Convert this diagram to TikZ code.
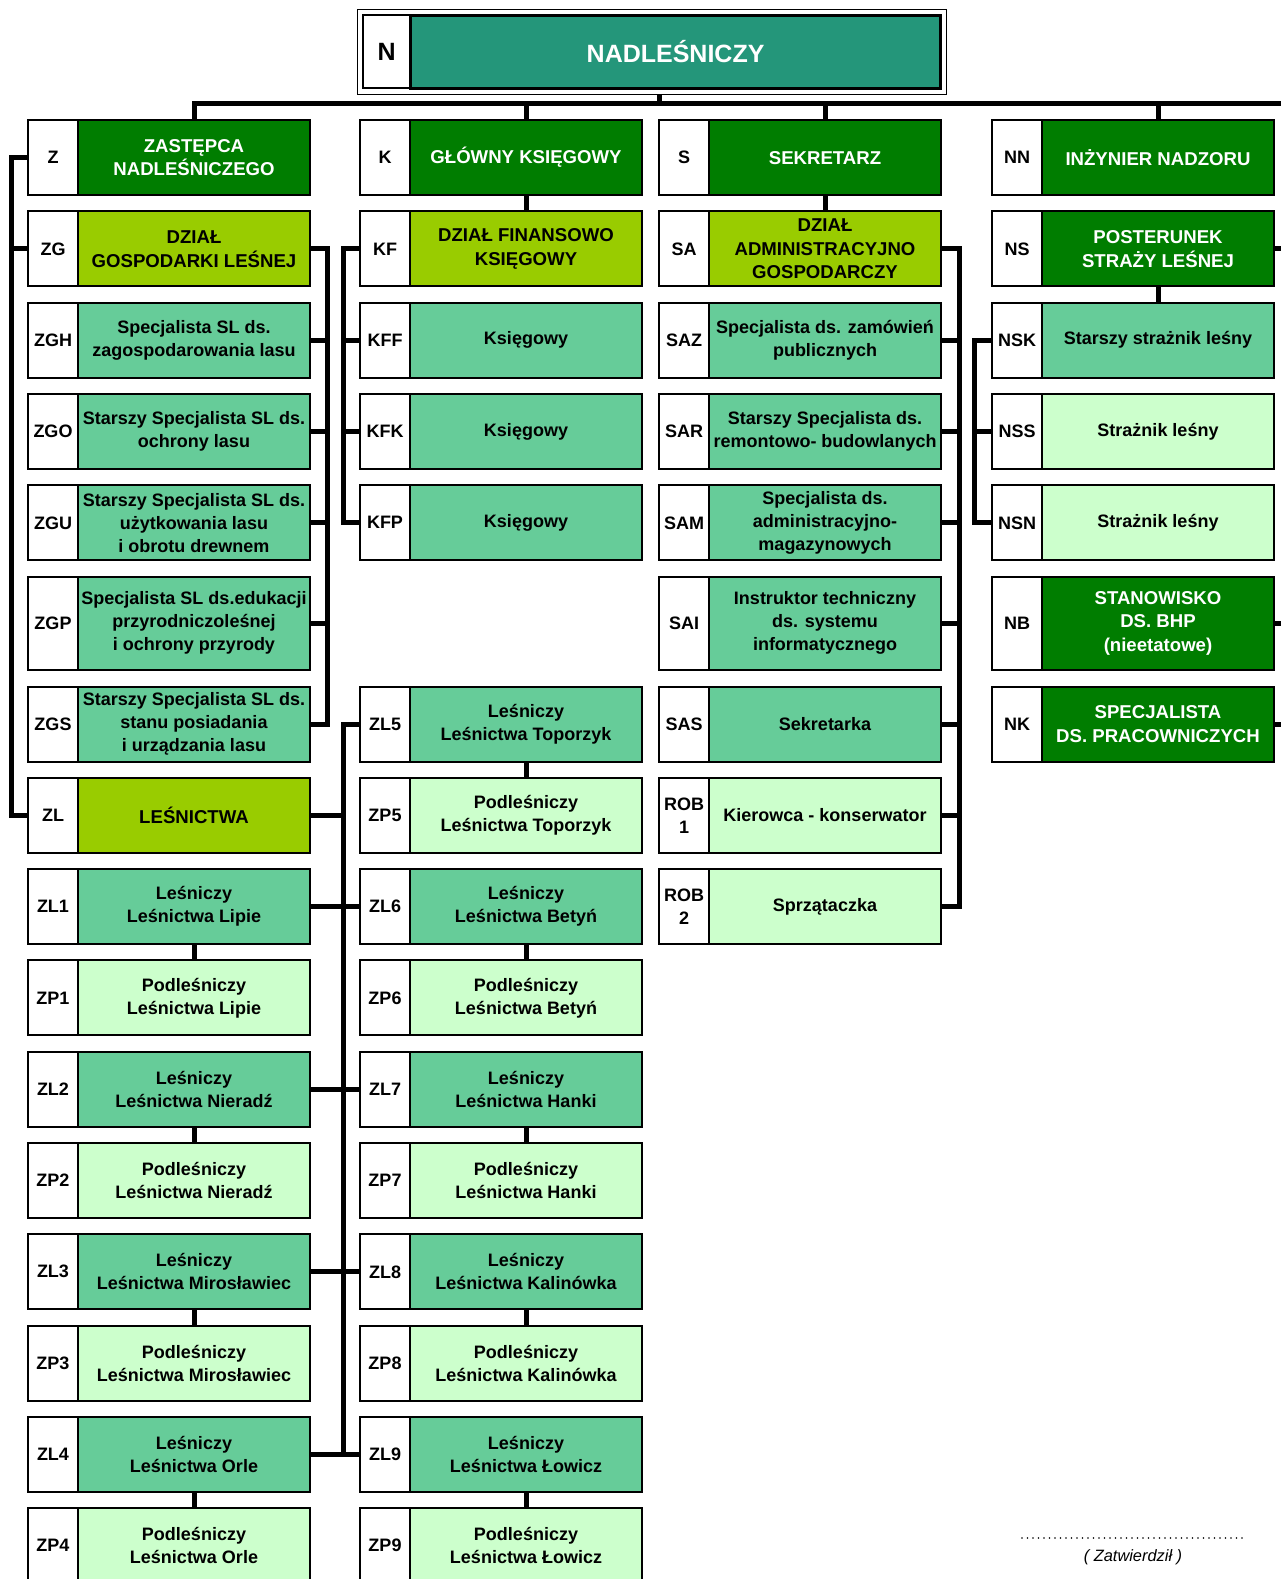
\documentclass[tikz,border=0pt]{standalone}
\usepackage{fontspec}
\setmainfont{Liberation Sans}
\usetikzlibrary{fit}
\definecolor{ciemny}{RGB}{0,125,0}
\definecolor{limon}{RGB}{153,204,0}
\definecolor{sredni}{RGB}{102,204,153}
\definecolor{jasny}{RGB}{204,255,204}
\definecolor{morski}{RGB}{36,150,122}
\begin{document}
\begin{tikzpicture}[x=0.5pt,y=-0.5pt,inner sep=1pt,
  box/.style={draw,line width=1pt,minimum height=37.5pt,align=center,font=\fontsize{9}{11.5}\selectfont\bfseries},
  kod/.style={box,fill=white,minimum width=25pt},
  glowny/.style={box,minimum width=116pt,fill=ciemny,text=white,font=\fontsize{9.3}{11.8}\selectfont\bfseries},
  dzial/.style={box,minimum width=116pt,fill=limon,font=\fontsize{9.3}{11.8}\selectfont\bfseries},
  stan/.style={box,minimum width=116pt,fill=sredni},
  podl/.style={box,minimum width=116pt,fill=jasny},
  wysoki/.style={minimum height=46.5pt},
  polacz/.style={line width=2.5pt}]
\useasboundingbox (0,0) rectangle (1280,1579);
% nadlesniczy
\node[kod,minimum width=24pt,minimum height=36.5pt,font=\fontsize{12.5}{14}\selectfont\bfseries] (cn) at (386.6,51.7) {N};
\node[box,minimum width=265pt,minimum height=36.5pt,line width=1.5pt,fill=morski,text=white,font=\fontsize{12.5}{14}\selectfont\bfseries] (n) at (675.6,51.7) {NADLEŚNICZY};
\node[draw,line width=0.6pt,inner sep=2.2pt,fit=(cn)(n)] (nramka) {};
\coordinate (szyna) at (659,103.5);
\coordinate (prawy) at (1292,103.5);
%
\node[kod] (cz) at (53,157.6) {Z};
\node[glowny] (z) at (194,157.6) {ZASTĘPCA\\NADLEŚNICZEGO};
\node[kod] (ck) at (385,157.6) {K};
\node[glowny] (k) at (526,157.6) {GŁÓWNY KSIĘGOWY};
\node[kod] (cs) at (684,157.6) {S};
\node[glowny] (s) at (825,157.6) {SEKRETARZ};
\node[kod] (cnn) at (1017,157.6) {NN};
\node[glowny] (nn) at (1158,157.6) {INŻYNIER NADZORU};
%
\node[kod] (czg) at (53,248.9) {ZG};
\node[dzial] (zg) at (194,248.9) {DZIAŁ\\GOSPODARKI LEŚNEJ};
\node[kod] (ckf) at (385,248.9) {KF};
\node[dzial] (kf) at (526,248.9) {DZIAŁ FINANSOWO\\KSIĘGOWY};
\node[kod] (csa) at (684,248.9) {SA};
\node[dzial] (sa) at (825,248.9) {DZIAŁ\\ADMINISTRACYJNO\\GOSPODARCZY};
\node[kod] (cns) at (1017,248.9) {NS};
\node[glowny] (ns) at (1158,248.9) {POSTERUNEK\\STRAŻY LEŚNEJ};
%
\node[kod] (czgh) at (53,340.2) {ZGH};
\node[stan] (zgh) at (194,340.2) {Specjalista SL ds.\\zagospodarowania lasu};
\node[kod] (ckff) at (385,340.2) {KFF};
\node[stan] (kff) at (526,340.2) {Księgowy};
\node[kod] (csaz) at (684,340.2) {SAZ};
\node[stan] (saz) at (825,340.2) {Specjalista ds. zamówień\\publicznych};
\node[kod] (cnsk) at (1017,340.2) {NSK};
\node[stan] (nsk) at (1158,340.2) {Starszy strażnik leśny};
%
\node[kod] (czgo) at (53,431.5) {ZGO};
\node[stan] (zgo) at (194,431.5) {Starszy Specjalista SL ds.\\ochrony lasu};
\node[kod] (ckfk) at (385,431.5) {KFK};
\node[stan] (kfk) at (526,431.5) {Księgowy};
\node[kod] (csar) at (684,431.5) {SAR};
\node[stan] (sar) at (825,431.5) {Starszy Specjalista ds.\\remontowo- budowlanych};
\node[kod] (cnss) at (1017,431.5) {NSS};
\node[podl] (nss) at (1158,431.5) {Strażnik leśny};
%
\node[kod] (czgu) at (53,522.8) {ZGU};
\node[stan] (zgu) at (194,522.8) {Starszy Specjalista SL ds.\\użytkowania lasu\\i obrotu drewnem};
\node[kod] (ckfp) at (385,522.8) {KFP};
\node[stan] (kfp) at (526,522.8) {Księgowy};
\node[kod] (csam) at (684,522.8) {SAM};
\node[stan] (sam) at (825,522.8) {Specjalista ds.\\administracyjno-\\magazynowych};
\node[kod] (cnsn) at (1017,522.8) {NSN};
\node[podl] (nsn) at (1158,522.8) {Strażnik leśny};
%
\node[kod,wysoki] (czgp) at (53,623.2) {ZGP};
\node[stan,wysoki] (zgp) at (194,623.2) {Specjalista SL ds.edukacji\\przyrodniczoleśnej\\i ochrony przyrody};
\node[kod,wysoki] (csai) at (684,623.2) {SAI};
\node[stan,wysoki] (sai) at (825,623.2) {Instruktor techniczny\\ds. systemu\\informatycznego};
\node[kod,wysoki] (cnb) at (1017,623.2) {NB};
\node[glowny,wysoki] (nb) at (1158,623.2) {STANOWISKO\\DS. BHP\\(nieetatowe)};
%
\node[kod] (czgs) at (53,724) {ZGS};
\node[stan] (zgs) at (194,724) {Starszy Specjalista SL ds.\\stanu posiadania\\i urządzania lasu};
\node[kod] (czl5) at (385,724) {ZL5};
\node[stan] (zl5) at (526,724) {Leśniczy\\Leśnictwa Toporzyk};
\node[kod] (csas) at (684,724) {SAS};
\node[stan] (sas) at (825,724) {Sekretarka};
\node[kod] (cnk) at (1017,724) {NK};
\node[glowny] (nk) at (1158,724) {SPECJALISTA\\DS. PRACOWNICZYCH};
%
\node[kod] (czl) at (53,815.3) {ZL};
\node[dzial] (zl) at (194,815.3) {LEŚNICTWA};
\node[kod] (czp5) at (385,815.3) {ZP5};
\node[podl] (zp5) at (526,815.3) {Podleśniczy\\Leśnictwa Toporzyk};
\node[kod] (crob1) at (684,815.3) {ROB\\1};
\node[podl] (rob1) at (825,815.3) {Kierowca - konserwator};
%
\node[kod] (czl1) at (53,906.6) {ZL1};
\node[stan] (zl1) at (194,906.6) {Leśniczy\\Leśnictwa Lipie};
\node[kod] (czl6) at (385,906.6) {ZL6};
\node[stan] (zl6) at (526,906.6) {Leśniczy\\Leśnictwa Betyń};
\node[kod] (crob2) at (684,906.6) {ROB\\2};
\node[podl] (rob2) at (825,906.6) {Sprzątaczka};
%
\node[kod] (czp1) at (53,997.9) {ZP1};
\node[podl] (zp1) at (194,997.9) {Podleśniczy\\Leśnictwa Lipie};
\node[kod] (czp6) at (385,997.9) {ZP6};
\node[podl] (zp6) at (526,997.9) {Podleśniczy\\Leśnictwa Betyń};
%
\node[kod] (czl2) at (53,1089.2) {ZL2};
\node[stan] (zl2) at (194,1089.2) {Leśniczy\\Leśnictwa Nieradź};
\node[kod] (czl7) at (385,1089.2) {ZL7};
\node[stan] (zl7) at (526,1089.2) {Leśniczy\\Leśnictwa Hanki};
%
\node[kod] (czp2) at (53,1180.5) {ZP2};
\node[podl] (zp2) at (194,1180.5) {Podleśniczy\\Leśnictwa Nieradź};
\node[kod] (czp7) at (385,1180.5) {ZP7};
\node[podl] (zp7) at (526,1180.5) {Podleśniczy\\Leśnictwa Hanki};
%
\node[kod] (czl3) at (53,1271.8) {ZL3};
\node[stan] (zl3) at (194,1271.8) {Leśniczy\\Leśnictwa Mirosławiec};
\node[kod] (czl8) at (385,1271.8) {ZL8};
\node[stan] (zl8) at (526,1271.8) {Leśniczy\\Leśnictwa Kalinówka};
%
\node[kod] (czp3) at (53,1363.1) {ZP3};
\node[podl] (zp3) at (194,1363.1) {Podleśniczy\\Leśnictwa Mirosławiec};
\node[kod] (czp8) at (385,1363.1) {ZP8};
\node[podl] (zp8) at (526,1363.1) {Podleśniczy\\Leśnictwa Kalinówka};
%
\node[kod] (czl4) at (53,1454.4) {ZL4};
\node[stan] (zl4) at (194,1454.4) {Leśniczy\\Leśnictwa Orle};
\node[kod] (czl9) at (385,1454.4) {ZL9};
\node[stan] (zl9) at (526,1454.4) {Leśniczy\\Leśnictwa Łowicz};
%
\node[kod] (czp4) at (53,1545.7) {ZP4};
\node[podl] (zp4) at (194,1545.7) {Podleśniczy\\Leśnictwa Orle};
\node[kod] (czp9) at (385,1545.7) {ZP9};
\node[podl] (zp9) at (526,1545.7) {Podleśniczy\\Leśnictwa Łowicz};
%
\draw[polacz] (szyna |- nramka.south) -- (szyna);
\draw[polacz] (z.north) |- (prawy);
\draw[polacz] (k.north) -- (k.north |- szyna) (s.north) -- (s.north |- szyna) (nn.north) -- (nn.north |- szyna);
\draw[polacz] (ns.east) -| (prawy) (nb.east) -| (prawy) (nk.east) -| (prawy);
\draw[polacz] (cz.west) -- ++(-16,0) |- (czl.west) (czg.west) -- ++(-16,0);
\draw[polacz] (zg.east) -- ++(16,0) |- (zgs.east) (zgh.east) -- ++(16,0) (zgo.east) -- ++(16,0) (zgu.east) -- ++(16,0) (zgp.east) -- ++(16,0);
\draw[polacz] (k.south) -- (kf.north);
\draw[polacz] (ckf.west) -- ++(-16,0) |- (ckfp.west) (ckff.west) -- ++(-16,0) (ckfk.west) -- ++(-16,0);
\draw[polacz] (czl5.west) -- ++(-16,0) |- (czl9.west) (zl.east) -- ++(34,0);
\draw[polacz] (zl1.east) -- (czl6.west) (zl2.east) -- (czl7.west) (zl3.east) -- (czl8.west) (zl4.east) -- (czl9.west);
\draw[polacz] (zl1) -- (zp1) (zl2) -- (zp2) (zl3) -- (zp3) (zl4) -- (zp4);
\draw[polacz] (zl5) -- (zp5) (zl6) -- (zp6) (zl7) -- (zp7) (zl8) -- (zp8) (zl9) -- (zp9);
\draw[polacz] (s.south) -- (sa.north);
\draw[polacz] (sa.east) -- ++(17,0) |- (rob2.east) (saz.east) -- ++(17,0) (sar.east) -- ++(17,0) (sam.east) -- ++(17,0) (sai.east) -- ++(17,0) (sas.east) -- ++(17,0) (rob1.east) -- ++(17,0);
\draw[polacz] (ns.south) -- (nsk.north);
\draw[polacz] (cnsk.west) -- ++(-17,0) |- (cnsn.west) (cnss.west) -- ++(-17,0);
% podpis
\draw[line width=0.9pt,line cap=round,dash pattern=on 0pt off 2.75pt] (1022,1538) -- (1246,1538);
\node[font=\fontsize{8.2}{10}\selectfont\itshape] (podpis) at (1133,1557) {( Zatwierdził )};
\end{tikzpicture}
\end{document}
